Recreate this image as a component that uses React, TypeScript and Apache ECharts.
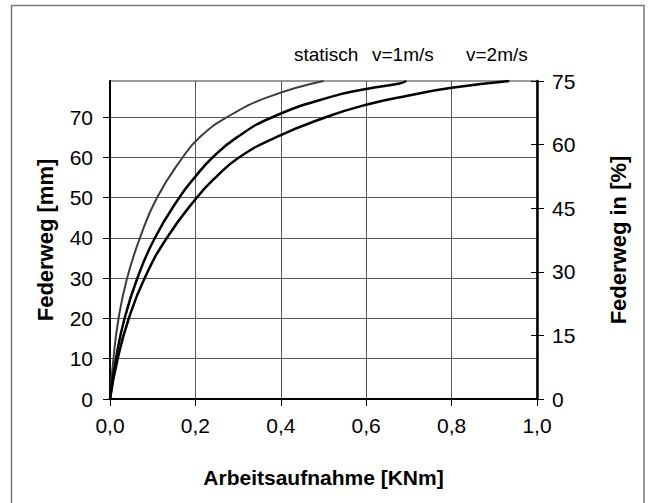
import React, { useEffect, useRef } from "react";
import * as echarts from "echarts";

const seriesNames = ["statisch", "v=1m/s", "v=2m/s"];

const statisch: [number, number][] = [
  [0, 0], [0.008, 10], [0.02, 20], [0.04, 30], [0.07, 40], [0.11, 50],
  [0.17, 60], [0.21, 65], [0.274, 70], [0.37, 75], [0.5, 79],
];
const v1: [number, number][] = [
  [0, 0], [0.014, 10], [0.034, 20], [0.064, 30], [0.105, 40], [0.162, 50],
  [0.198, 55], [0.24, 60], [0.297, 65], [0.38, 70], [0.515, 75], [0.6, 77], [0.678, 78.4], [0.694, 79],
];
const v2: [number, number][] = [
  [0, 0], [0.018, 10], [0.044, 20], [0.081, 30], [0.133, 40], [0.203, 50],
  [0.247, 55], [0.302, 60], [0.388, 65], [0.505, 70], [0.6, 73.1], [0.7, 75.4], [0.8, 77.3], [0.935, 79],
];

const xTicks = [0, 0.2, 0.4, 0.6, 0.8, 1.0];
const leftMax = 79;
const rightMax = 75;

const FONT = "'Liberation Sans', Arial, sans-serif";

export default function App() {
  const ref = useRef<HTMLDivElement>(null);
  useEffect(() => {
    if (!ref.current) return;
    const chart = echarts.init(ref.current, null, { renderer: "svg" });
    const gridCol = "#555";
    const lineCommon = { type: "line", showSymbol: false, smooth: 0.5, z: 3 };
    chart.setOption({
      animation: false,
      backgroundColor: "#fff",
      textStyle: { fontFamily: FONT },
      grid: { left: 110, right: 114, top: 81, bottom: 104, show: true, borderColor: "#999", borderWidth: 2 },
      graphic: [
        { type: "rect", shape: { x: 11.5, y: 5.5, width: 632.5, height: 510 }, style: { fill: "none", stroke: "#777", lineWidth: 1.5 }, z: -1 },
        { type: "text", x: 294, y: 45, style: { text: seriesNames[0], font: `19px ${FONT}`, fill: "#000" } },
        { type: "text", x: 372, y: 45, style: { text: seriesNames[1], font: `19px ${FONT}`, fill: "#000" } },
        { type: "text", x: 466, y: 45, style: { text: seriesNames[2], font: `19px ${FONT}`, fill: "#000" } },
      ],
      xAxis: {
        type: "value",
        min: xTicks[0],
        max: xTicks[xTicks.length - 1],
        interval: 0.2,
        name: "Arbeitsaufnahme [KNm]",
        nameLocation: "middle",
        nameGap: 68,
        nameTextStyle: { fontSize: 21, fontWeight: "bold", color: "#000", fontFamily: FONT },
        axisLine: { show: true, lineStyle: { color: "#000", width: 2 } },
        axisTick: { show: true, inside: false, length: 7, lineStyle: { color: "#000" } },
        axisLabel: { fontSize: 21, color: "#000", margin: 16, formatter: (v: number) => v.toFixed(1).replace(".", ",") },
        splitLine: { show: true, lineStyle: { color: gridCol, width: 1 } },
      },
      yAxis: [
        {
          type: "value",
          position: "left",
          min: 0,
          max: leftMax,
          interval: 10,
          name: "Federweg [mm]",
          nameLocation: "middle",
          nameRotate: 90,
          nameGap: 54,
          nameTextStyle: { fontSize: 22, fontWeight: "bold", color: "#000", fontFamily: FONT },
          axisLine: { show: true, lineStyle: { color: "#000", width: 2 } },
          axisTick: { show: true, inside: false, length: 7, lineStyle: { color: "#000" } },
          axisLabel: { fontSize: 21, color: "#000", margin: 17, showMaxLabel: false, formatter: (v: number) => (v % 10 === 0 ? String(v) : "") },
          splitLine: { show: true, lineStyle: { color: [gridCol, gridCol, gridCol, gridCol, gridCol, gridCol, gridCol, gridCol, "#999"], width: 1 } },
        },
        {
          type: "value",
          position: "right",
          min: 0,
          max: rightMax,
          interval: 15,
          name: "Federweg in [%]",
          nameLocation: "middle",
          nameRotate: 90,
          nameGap: 70,
          nameTextStyle: { fontSize: 22, fontWeight: "bold", color: "#000", fontFamily: FONT },
          axisLine: { show: true, lineStyle: { color: "#000", width: 2.5 } },
          axisTick: { show: true, inside: false, length: 7, lineStyle: { color: "#000" } },
          axisLabel: { fontSize: 21, color: "#000", margin: 15 },
          splitLine: { show: false },
        },
        {
          type: "value",
          position: "right",
          min: 0,
          max: rightMax,
          interval: 15,
          axisLine: { show: false },
          axisTick: { show: true, inside: true, length: 6, lineStyle: { color: "#000" } },
          axisLabel: { show: false },
          splitLine: { show: false },
        },
      ],
      series: [
        { ...lineCommon, name: seriesNames[0], data: statisch, lineStyle: { color: "#3c3c3c", width: 2 }, itemStyle: { color: "#3c3c3c" } },
        { ...lineCommon, name: seriesNames[1], data: v1, lineStyle: { color: "#000", width: 2.5 }, itemStyle: { color: "#000" } },
        { ...lineCommon, name: seriesNames[2], data: v2, lineStyle: { color: "#000", width: 2.5 }, itemStyle: { color: "#000" } },
      ],
    });
    return () => chart.dispose();
  }, []);
  return (
    <div
      ref={ref}
      style={{ position: "fixed", left: 0, top: 0, width: 651, height: 503, background: "#fff" }}
    />
  );
}
